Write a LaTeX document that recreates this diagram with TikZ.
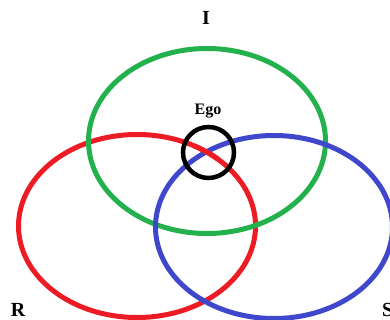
\documentclass[tikz,border=0pt]{standalone}
\usepackage{fontspec}
\setmainfont{Liberation Serif}
\definecolor{ringgreen}{RGB}{34,177,76}
\definecolor{ringred}{RGB}{237,28,36}
\definecolor{ringblue}{RGB}{63,72,204}
\begin{document}
\begin{tikzpicture}[x=1pt,y=-1pt,
  ring/.style={line width=5pt},
  lbl/.style={font=\bfseries\fontsize{20}{20}\selectfont, inner sep=0pt}]
\useasboundingbox (0,0) rectangle (390,320);
\clip (0,0) rectangle (390,320);
\draw[ring, draw=ringred] (137,226) ellipse [x radius=118.5, y radius=91.5];
\draw[ring, draw=ringgreen] (207,141) ellipse [x radius=118.5, y radius=92.5];
\draw[ring, draw=ringblue] (274,227) ellipse [x radius=118.5, y radius=91.5];
\begin{scope}
  \clip (205.5,153) circle [radius=14];
  \draw[ring, draw=ringred] (137,226) ellipse [x radius=118.5, y radius=91.5];
\end{scope}
\draw[line width=4.5pt] (208.5,152.5) circle [radius=25.5];
\node[lbl] (I) at (206,18) {I};
\node[lbl] (R) at (18,310) {R};
\node[lbl, anchor=west] (S) at (382,310) {S};
\node[inner sep=0pt, font=\bfseries\fontsize{16}{16}\selectfont] (Ego) at (208,111) {Ego};
\end{tikzpicture}
\end{document}
